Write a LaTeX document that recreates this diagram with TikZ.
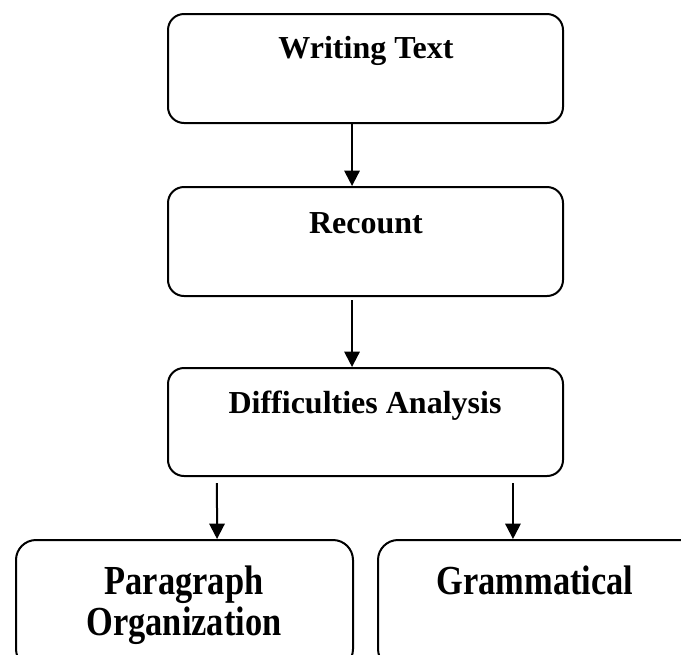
\documentclass[tikz,border=0pt]{standalone}
\usepackage{fontspec}
\setmainfont{Liberation Serif}
\usetikzlibrary{arrows.meta}
\begin{document}
\begin{tikzpicture}[x=0.75pt,y=-0.75pt,
  box/.style={draw, line width=1.5pt, rounded corners=12pt, inner sep=0pt, anchor=north west},
  topbox/.style={box, minimum width=296.25pt, minimum height=81.75pt},
  botbox/.style={box, rounded corners=15pt, minimum height=96.75pt},
  toptext/.style={anchor=base, inner sep=0pt, font=\fontsize{24pt}{28pt}\selectfont\bfseries},
  bottext/.style={anchor=base, inner sep=0pt, font=\fontsize{25.8pt}{30pt}\selectfont\bfseries},
  arr/.style={line width=1.5pt, -{Triangle[length=11.5pt, width=11.5pt]}}]
\clip (0,0) rectangle (681,654);
\fill[white] (0,0) rectangle (681,654);
\node[topbox] (b1) at (167,13) {};
\node[topbox] (b2) at (167,186) {};
\node[topbox, minimum height=81pt] (b3) at (167,367) {};
\node[botbox, minimum width=252.75pt] (b4) at (15,539) {};
\node[botbox, minimum width=251.25pt] (b5) at (377,539) {};
\node[toptext] (t1) at (366,58) {Writing Text};
\node[toptext] (t2) at (366,233) {Recount};
\node[toptext] (t3) at (365,413) {Difficulties Analysis};
\node[bottext] (t4) at (184,594) {\scalebox{1}[1.2]{Paragraph}};
\node[bottext] (t5) at (184,635) {\scalebox{1}[1.2]{Organization}};
\node[bottext] (t6) at (535,594) {\scalebox{1}[1.2]{Grammatical}};
\draw[arr] ([xshift=-10.1pt]b1.south) -- ([xshift=-10.1pt]b2.north);
\draw[arr] ([xshift=-10.1pt,yshift=-2.25pt]b2.south) -- ([xshift=-10.1pt]b3.north);
\draw[arr] ([xshift=-111.4pt,yshift=-4.5pt]b3.south) -- ([xshift=24.4pt]b4.north);
\draw[arr] ([xshift=110.6pt,yshift=-4.5pt]b3.south) -- ([xshift=-24.4pt]b5.north);
\end{tikzpicture}
\end{document}
